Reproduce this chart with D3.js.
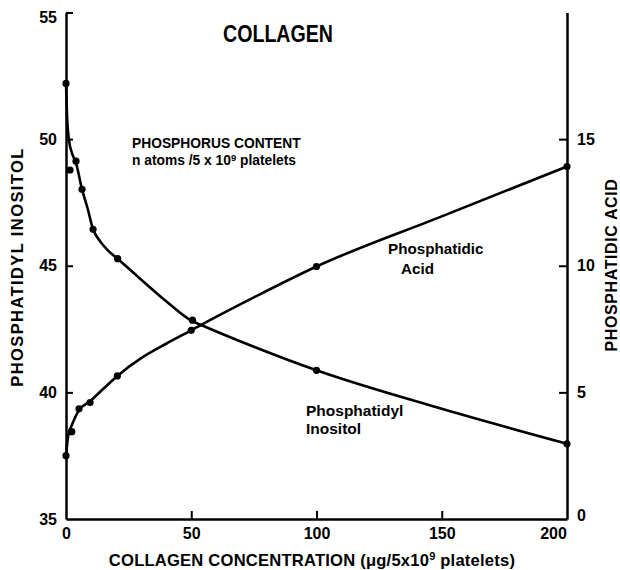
<!DOCTYPE html>
<html>
<head>
<meta charset="utf-8">
<script src="https://cdn.jsdelivr.net/npm/d3@7"></script>
<style>
  html, body { margin: 0; padding: 0; background: #fff; }
  svg { display: block; }
  text { font-family: "Liberation Sans", Arial, sans-serif; font-weight: bold; fill: #000; }
</style>
</head>
<body>
<svg id="chart" width="620" height="570"></svg>
<script>
// ---- Data ----
const xTicks = [0, 50, 100, 150, 200];
const leftTicks = [35, 40, 45, 50, 55];
const rightTicks = [0, 5, 10, 15];

// Phosphatidyl inositol: measured points (left axis)
const piX = [0, 1.6, 4, 6.4, 10.8, 20.6, 50.5, 100, 200];
const piY = [52.2, 48.78, 49.13, 48.02, 46.44, 45.28, 42.85, 40.87, 37.97];
// Phosphatidyl inositol: drawn curve
const piFitX = [0, 0.4, 1.2, 2.4, 4, 6.4, 8.6, 10.8, 13.6, 16.8, 20.6, 29.5, 39.5, 50.3, 53.5, 75, 100, 150, 200];
const piFitY = [52.2, 50.95, 49.96, 49.45, 49.05, 48.02, 47.27, 46.44, 45.97, 45.6, 45.28, 44.5, 43.64, 42.82, 42.68, 41.8, 40.87, 39.35, 37.97];

// Phosphatidic acid: measured points (right axis)
const paX = [0, 2.3, 5.2, 9.6, 20.5, 50, 100, 200];
const paY = [2.5, 3.45, 4.35, 4.6, 5.65, 7.45, 9.97, 13.92];
// Phosphatidic acid: drawn curve
const paFitX = [0, 0.5, 1, 2.3, 5.2, 9.6, 15, 20.5, 30, 40, 50, 53.5, 75, 100, 150, 200];
const paFitY = [2.5, 3.0, 3.35, 3.7, 4.3, 4.65, 5.15, 5.65, 6.35, 6.92, 7.45, 7.64, 8.75, 9.97, 11.95, 13.92];

// ---- Layout ----
const svg = d3.select("#chart");
const x = d3.scaleLinear().domain([0, 200]).range([66, 567]);
const yL = d3.scaleLinear().domain([35, 55]).range([519, 12.5]);
const yR = d3.scaleLinear().domain([0, 20]).range([519, 12.5]);

// axes
const gL = svg.append("g").attr("transform", `translate(${x(0)},0)`)
  .call(d3.axisLeft(yL).tickValues(leftTicks).tickSize(-7).tickSizeOuter(0).tickPadding(9));
const gR = svg.append("g").attr("transform", `translate(${x(200)},0)`)
  .call(d3.axisRight(yR).tickValues(rightTicks).tickSize(-8).tickSizeOuter(0).tickPadding(10));
const gB = svg.append("g").attr("transform", `translate(0,${yL(35)})`)
  .call(d3.axisBottom(x).tickValues(xTicks).tickSize(-8).tickSizeOuter(0).tickPadding(9));

[gL, gR, gB].forEach(g => {
  g.selectAll("path.domain").attr("stroke", "#000").attr("stroke-width", 2.5);
  g.selectAll(".tick line").attr("stroke", "#000").attr("stroke-width", 2);
  g.selectAll(".tick text").style("font-family", "'Liberation Sans', Arial, sans-serif")
    .style("font-weight", "bold").style("font-size", "16px").attr("fill", "#000");
});
gB.selectAll(".tick text").filter(d => d === 200).attr("dx", -14);
gB.selectAll(".tick line").filter(d => d === 0 || d === 200).remove();
gL.selectAll(".tick line").filter(d => d === 35).remove();
gL.selectAll(".tick text").filter(d => d === 55).attr("dy", "0.62em");
gR.selectAll(".tick line").filter(d => d === 0).remove();
gR.selectAll(".tick text").filter(d => d === 0).attr("dy", "0.1em");

// curves
const piLine = d3.line().x(d => x(d[0])).y(d => yL(d[1])).curve(d3.curveMonotoneX);
const paLine = d3.line().x(d => x(d[0])).y(d => yR(d[1])).curve(d3.curveMonotoneX);

svg.append("path").datum(piFitX.map((v, i) => [v, piFitY[i]]))
  .attr("d", piLine).attr("fill", "none").attr("stroke", "#000").attr("stroke-width", 2.6);
svg.append("path").datum(paFitX.map((v, i) => [v, paFitY[i]]))
  .attr("d", paLine).attr("fill", "none").attr("stroke", "#000").attr("stroke-width", 2.6);

svg.append("g").selectAll("circle").data(piX.map((v, i) => [v, piY[i]])).join("circle")
  .attr("cx", d => x(d[0])).attr("cy", d => yL(d[1])).attr("r", 3.6).attr("fill", "#000");
svg.append("g").selectAll("circle").data(paX.map((v, i) => [v, paY[i]])).join("circle")
  .attr("cx", d => x(d[0])).attr("cy", d => yR(d[1])).attr("r", 3.6).attr("fill", "#000");

// texts
svg.append("text").attr("x", 223).attr("y", 42)
  .attr("textLength", 110).attr("lengthAdjust", "spacingAndGlyphs")
  .style("font-size", "24px").text("COLLAGEN");

svg.append("text").attr("x", 132).attr("y", 148).style("font-size", "13.8px").text("PHOSPHORUS CONTENT");
const t2 = svg.append("text").attr("x", 132).attr("y", 165).style("font-size", "13.8px");
t2.append("tspan").text("n atoms /5 x 10");
t2.append("tspan").attr("dy", -4).style("font-size", "9.5px").text("9");
t2.append("tspan").attr("dy", 4).text(" platelets");

svg.append("text").attr("x", 388).attr("y", 254).style("font-size", "15.2px").text("Phosphatidic");
svg.append("text").attr("x", 401).attr("y", 274).style("font-size", "15.2px").text("Acid");

svg.append("text").attr("x", 306).attr("y", 416).style("font-size", "15.5px").text("Phosphatidyl");
svg.append("text").attr("x", 306).attr("y", 434).style("font-size", "15.5px").text("Inositol");

svg.append("text").attr("transform", "translate(23,267) rotate(-90)").attr("text-anchor", "middle")
  .style("font-size", "16.5px").style("letter-spacing", "1.4px").text("PHOSPHATIDYL INOSITOL");
svg.append("text").attr("transform", "translate(617,265) rotate(-90)").attr("text-anchor", "middle")
  .style("font-size", "16px").style("letter-spacing", "0.6px").text("PHOSPHATIDIC ACID");

const xl = svg.append("text").attr("x", 312).attr("y", 566).attr("text-anchor", "middle")
  .style("font-size", "16.6px").style("letter-spacing", "0.2px");
xl.append("tspan").text("COLLAGEN CONCENTRATION (\u03BCg/5x10");
xl.append("tspan").attr("dy", -6).style("font-size", "11px").text("9");
xl.append("tspan").attr("dy", 6).text(" platelets)");
</script>
</body>
</html>
